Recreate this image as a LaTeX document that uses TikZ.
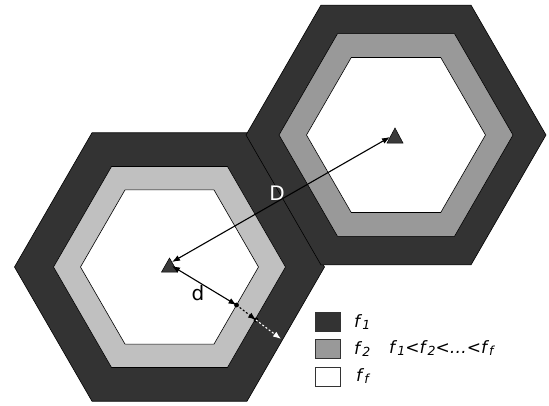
\documentclass[tikz,border=0pt]{standalone}
\usepackage{fontspec}
\setmainfont{DejaVu Sans}
\usetikzlibrary{calc,arrows.meta}
\definecolor{darkband}{HTML}{333333}
\definecolor{lightband}{HTML}{C0C0C0}
\definecolor{midband}{HTML}{999999}
\definecolor{trifill}{HTML}{3A3A3A}
\newcommand{\hexagonat}[3]{%
  \draw[band,fill=#3] ($(#1)+(0:#2)$) -- ($(#1)+(60:#2)$) -- ($(#1)+(120:#2)$) --
    ($(#1)+(180:#2)$) -- ($(#1)+(240:#2)$) -- ($(#1)+(300:#2)$) -- cycle;}
\newcommand{\fsub}[1]{\textit{f}\raisebox{-1.2pt}{\fontsize{12.5}{12.5}\selectfont\textit{#1}}}
\tikzset{
  band/.style={draw=black, line width=0.6pt},
  trimark/.style={draw=black, line width=0.5pt, fill=trifill},
  dist/.style={line width=1.1pt},
  legbox/.style={draw=black!80, line width=0.7pt, minimum width=25pt, minimum height=19pt, inner sep=0pt},
  leglabel/.style={anchor=west, inner sep=0pt, font=\fontsize{17}{17}\selectfont},
  biglabel/.style={inner sep=0pt, font=\fontsize{20}{20}\selectfont}
}
\begin{document}
\begin{tikzpicture}[x=1pt,y=-1pt]
\useasboundingbox (0,0) rectangle (549,405);
\fill[white] (0,0) rectangle (549,405);
% centres
\coordinate (c1) at (169.5,267);
\coordinate (c2) at (396,135);
% left hexagon
\hexagonat{c1}{155}{darkband}
\hexagonat{c1}{116}{lightband}
\hexagonat{c1}{89}{white}
% right hexagon
\hexagonat{c2}{150}{darkband}
\hexagonat{c2}{117}{midband}
\hexagonat{c2}{89.5}{white}
% transmitter marks
\draw[trimark] (169.5,258) -- (161.5,272) -- (177.5,272) -- cycle;
\draw[trimark] (395,128) -- (387,143) -- (403,143) -- cycle;
% distance D
\coordinate (DL) at (172,262);
\coordinate (DR) at (390,137);
\draw[dist, {Latex[length=8pt,width=6pt]}-{Latex[length=8pt,width=6pt]}] (DL) -- (DR);
\node[biglabel, text=white] (Dlab) at (277,193) {D};
% distance d
\coordinate (dL) at (172,266);
\coordinate (p1) at (236.5,305);
\coordinate (p2) at (256,320);
\coordinate (p3) at (281,339);
\draw[dist, {Latex[length=8pt,width=6pt]}-{Latex[length=8pt,width=6pt]}] (dL) -- (p1);
\fill[black] (p1) circle (2.4pt);
\draw[line width=1.1pt, dash pattern=on 2pt off 2pt, -{Latex[length=8pt,width=6pt]}] (p1) -- (p2);
\fill[black] (p2) circle (2.4pt);
\draw[line width=1.1pt, white, dash pattern=on 2pt off 2pt, -{Latex[length=8pt,width=6pt,fill=white]}] (p2) -- (p3);
\node[biglabel] (dlab) at (198,293) {d};
% legend
\node[legbox, fill=darkband] (l1) at (327.5,321.5) {};
\node[legbox, fill=midband] (l2) at (327.5,349) {};
\node[legbox, fill=white] (l3) at (327.5,377) {};
\node[leglabel] (t1) at (354,322) {\fsub{1}};
\node[leglabel] (t2) at (354,349) {\fsub{2}};
\node[leglabel] (t3) at (356,376) {\fsub{f}};
\node[leglabel] (rel) at (389,348) {\fsub{1}\textit{<}\fsub{2}\textit{<…<}\fsub{f}};
\end{tikzpicture}
\end{document}
